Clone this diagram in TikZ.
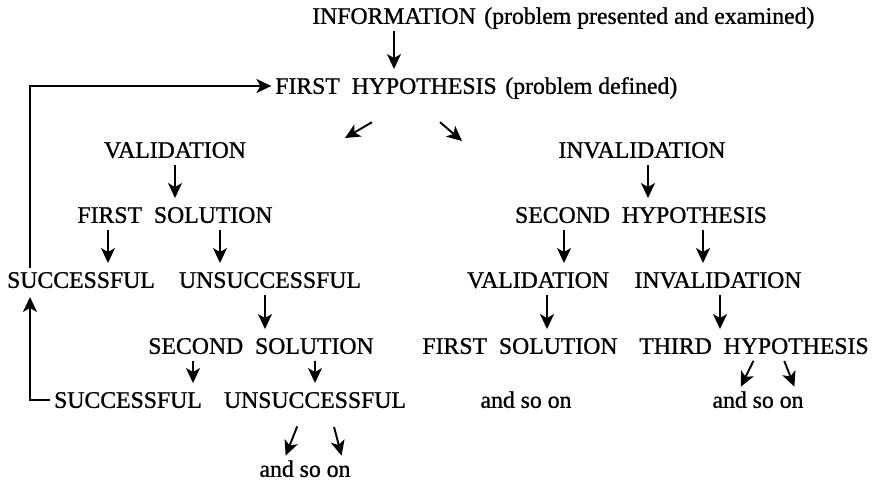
\documentclass[tikz,border=0pt]{standalone}
\usepackage{fontspec}
\setmainfont{Liberation Serif}[BoldFont=Liberation Serif, BoldFeatures={FakeBold=1}]
\usetikzlibrary{positioning,arrows.meta,calc}
\tikzset{
  % --- text nodes -------------------------------------------------------
  word/.style   ={inner sep=2pt, text height=8.9pt, text depth=0pt,
                  font=\fontsize{13.5}{16}\selectfont\bfseries, text=black},
  note/.style   ={word, inner sep=0pt},
  % --- arrows -----------------------------------------------------------
  tip/.style    ={-{Stealth[length=3mm,width=2.8mm,inset=0.8mm]}, line width=1.1pt},
  arrow/.style  ={tip, shorten <=2pt, shorten >=3pt},
  back/.style   ={tip},
}

\begin{document}
\begin{tikzpicture}
  \useasboundingbox (0,0) rectangle (17.46,-9.78);

  % ===================== top =====================
  \node[word] (info) at (7.88,-0.32) {INFORMATION};
  \node[note, anchor=base west] (infonote) at ([xshift=2.5pt]info.base east)
    {(problem presented and examined)};
  \node[word] (hyp1) at (7.72,-1.72) {FIRST\enspace HYPOTHESIS};
  \node[note, anchor=base west] (hypnote) at ([xshift=2.5pt]hyp1.base east)
    {(problem defined)};

  % ===================== validation branch =====================
  \node[word] (val1)    at (3.50,-3.00) {VALIDATION};
  \node[word] (sol1)    at (3.50,-4.30) {FIRST\enspace SOLUTION};
  \node[word] (succ1)   at (1.62,-5.60) {SUCCESSFUL};
  \node[word] (unsucc1) at (5.40,-5.60) {UNSUCCESSFUL};
  \node[word] (sol2)    at (5.22,-6.92) {SECOND\enspace SOLUTION};
  \node[word] (succ2)   at (2.56,-8.00) {SUCCESSFUL};
  \node[word] (unsucc2) at (6.30,-8.00) {UNSUCCESSFUL};
  \node[word] (more3)   at (6.10,-9.38) {and so on};

  % ===================== invalidation branch =====================
  \node[word] (inval1) at (12.84,-3.00) {INVALIDATION};
  \node[word] (hyp2)   at (12.82,-4.30) {SECOND\enspace HYPOTHESIS};
  \node[word] (val2)   at (10.76,-5.60) {VALIDATION};
  \node[word] (inval2) at (14.36,-5.60) {INVALIDATION};
  \node[word] (sol3)   at (10.40,-6.92) {FIRST\enspace SOLUTION};
  \node[word] (hyp3)   at (15.08,-6.92) {THIRD\enspace HYPOTHESIS};
  \node[word] (more1)  at (10.52,-8.00) {and so on};
  \node[word] (more2)  at (15.16,-8.00) {and so on};

  \coordinate (vtip) at (6.90,-2.76);
  \coordinate (itip) at (9.24,-2.82);

  % ===================== edges =====================
  \draw[arrow] (info.south) -- (info.south |- hyp1.north);
  \draw[back] ([shift={(-0.28,-0.49)}]hyp1.south) -- (vtip);
  \draw[back] ([shift={(1.08,-0.49)}]hyp1.south) -- (itip);
  % left side
  \draw[arrow] (val1.south) -- (val1.south |- sol1.north);
  \draw[arrow] ([xshift=-1.34cm]sol1.south) -- ([xshift=-1.34cm]sol1.south |- succ1.north);
  \draw[arrow] ([xshift=0.90cm]sol1.south) -- ([xshift=0.90cm]sol1.south |- unsucc1.north);
  \draw[arrow] ([xshift=-0.10cm]unsucc1.south) -- ([xshift=-0.10cm]unsucc1.south |- sol2.north);
  \draw[arrow] ([xshift=-1.36cm]sol2.south) -- ([xshift=-1.36cm]sol2.south |- succ2.north);
  \draw[arrow] ([xshift=1.08cm]sol2.south) -- ([xshift=1.08cm]sol2.south |- unsucc2.north);
  \draw[arrow, shorten <=9pt, shorten >=1pt] ([xshift=-0.24cm]unsucc2.south) -- ([xshift=-0.40cm]more3.north);
  \draw[arrow, shorten <=9pt, shorten >=1pt] ([xshift=0.30cm]unsucc2.south) -- ([xshift=0.74cm]more3.north);
  % feedback loops
  \draw[back] ([xshift=-1.02cm]succ1.north) |- (hyp1.west);
  \draw[arrow, shorten <=0pt] (succ2.west) -| ([xshift=-1.02cm]succ1.south);
  % right side
  \draw[arrow] ([xshift=0.12cm]inval1.south) -- ([xshift=0.12cm]inval1.south |- hyp2.north);
  \draw[arrow] ([xshift=-1.54cm]hyp2.south) -- ([xshift=-1.54cm]hyp2.south |- val2.north);
  \draw[arrow] ([xshift=1.24cm]hyp2.south) -- ([xshift=1.24cm]hyp2.south |- inval2.north);
  \draw[arrow] ([xshift=0.18cm]val2.south) -- ([xshift=0.18cm]val2.south |- sol3.north);
  \draw[arrow] ([xshift=0.04cm]inval2.south) -- ([xshift=0.04cm]inval2.south |- hyp3.north);
  \draw[arrow, shorten >=1pt] ([xshift=0.02cm]hyp3.south) -- ([xshift=-0.36cm]more2.north);
  \draw[arrow, shorten >=1pt] ([xshift=0.58cm]hyp3.south) -- ([xshift=0.74cm]more2.north);

\end{tikzpicture}
\end{document}
